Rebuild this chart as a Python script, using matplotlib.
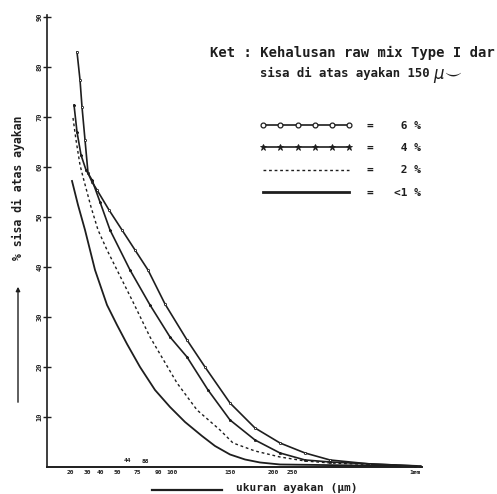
import numpy as np
import matplotlib
matplotlib.use('Agg')
import matplotlib.pyplot as plt
from matplotlib.lines import Line2D
from matplotlib.patches import FancyArrowPatch

# sieve position (arbitrary axis units) and % residue
x_6 = [30, 33, 35, 38, 41, 45, 50, 62, 75, 88, 101, 118, 140, 158, 183, 208, 233, 258, 283, 323, 373]
y_6 = [83, 77.4, 72, 65.4, 58.8, 57, 55.4, 51.4, 47.4, 43.4, 39.4, 32.6, 25.4, 20, 12.8, 7.8, 4.8, 2.8, 1.4, 0.6, 0.2]

x_4 = [27, 30, 34, 39, 45, 53, 63, 83, 103, 123, 140, 161, 183, 208, 233, 258, 283, 368]
y_4 = [72.4, 67, 62.4, 59.4, 57.4, 53, 47.4, 39.4, 32.4, 26, 22, 15.4, 9.4, 5.4, 2.8, 1.4, 1.0, 0.2]

x_2 = [26, 29, 33, 36, 44, 51, 60, 70, 86, 103, 130, 150, 173, 186, 208, 233, 258, 283, 363]
y_2 = [69.8, 65.4, 60.4, 58, 52, 47.4, 43.4, 39.4, 33, 26, 16.8, 11.4, 7.4, 4.8, 3.2, 2.0, 1.2, 0.8, 0.2]

x_1 = [25, 31, 38, 48, 60, 70, 80, 93, 108, 123, 138, 155, 168, 183, 198, 213, 233, 353]
y_1 = [57.2, 52.4, 47.4, 39.4, 32.4, 28.4, 24.6, 20, 15.4, 12, 9, 6.2, 4.2, 2.5, 1.5, 0.9, 0.5, 0.2]

yticks = [10, 20, 30, 40, 50, 60, 70, 80, 90]
xtick_pos = [23, 40, 53, 70, 90, 111, 125, 183, 226, 245, 368]
xtick_lab = ['20', '30', '40', '50', '75', '90', '100', '150', '200', '250', '1mm']

ink = '#1e1e1e'
mono = ['DejaVu Sans Mono']

fig = plt.figure(figsize=(4.97, 4.94), dpi=100)
ax = fig.add_axes([0.0946, 0.0547, 0.7544, 0.915])

ax.plot(x_6, y_6, color=ink, lw=1.2, marker='o', ms=1.6, mfc='white', mew=0.6)
ax.plot(x_4, y_4, color=ink, lw=1.2, marker='*', ms=2, mew=0.5)
ax.plot(x_2, y_2, color=ink, lw=1.0, ls=(0, (2, 2)))
ax.plot(x_1, y_1, color=ink, lw=1.3)

ax.set_xlim(0, 375)
ax.set_ylim(0, 90.4)
for s in ['top', 'right']:
	ax.spines[s].set_visible(False)
ax.spines['left'].set_color(ink)
ax.spines['bottom'].set_color(ink)
ax.spines['left'].set_linewidth(1.2)
ax.spines['bottom'].set_linewidth(1.4)

ax.set_yticks(yticks)
ax.set_yticklabels([str(v) for v in yticks], rotation=90, va='center',
	fontsize=5, family=mono, fontweight='bold', color=ink)
ax.tick_params(axis='y', direction='inout', length=6, width=1, pad=0, colors=ink)
ax.set_xticks(xtick_pos)
ax.set_xticklabels(xtick_lab, fontsize=4.5, family=mono, fontweight='bold', color=ink)
ax.tick_params(axis='x', direction='in', length=0, pad=2, colors=ink)
ax.text(80, 1.0, '44', fontsize=4.5, family=mono, fontweight='bold', color=ink, ha='center')
ax.text(98, 0.8, '88', fontsize=4.5, family=mono, fontweight='bold', color=ink, ha='center')

# axis titles
fig.text(18/497, 1-188/494, '% sisa di atas ayakan', rotation=90, ha='center', va='center',
	fontsize=8.3, family=mono, fontweight='bold', color=ink)
fig.add_artist(FancyArrowPatch((18/497, 1-405/494), (18/497, 1-284/494),
	transform=fig.transFigure, arrowstyle='-|>', mutation_scale=6, lw=1, color=ink))
fig.add_artist(Line2D([152/497, 222/497], [1-490/494, 1-490/494], transform=fig.transFigure,
	color=ink, lw=1.6))
fig.text(236/497, 1-488/494, 'ukuran ayakan (\u00b5m)', ha='left', va='center',
	fontsize=8, family=mono, fontweight='bold', color=ink)

# legend header
fig.text(210/497, 1-53/494, 'Ket : Kehalusan raw mix Type I dar', ha='left', va='center',
	fontsize=10, family=mono, fontweight='bold', color=ink)
fig.text(260/497, 1-73/494, 'sisa di atas ayakan 150', ha='left', va='center',
	fontsize=8.8, family=mono, fontweight='bold', color=ink)
fig.text(433/497, 1-76/494, r'$\mu\!\smile$', ha='left', va='center', fontsize=12, color=ink)

handles = [
	Line2D([], [], color=ink, lw=1.2, marker='o', ms=3.5, mfc='white', mew=0.9),
	Line2D([], [], color=ink, lw=1.2, marker='*', ms=5, mew=0.6),
	Line2D([], [], color=ink, lw=1.0, ls=(0, (2, 2))),
	Line2D([], [], color=ink, lw=2),
]
labels = ['=    6 %', '=    4 %', '=    2 %', '=   <1 %']
leg = fig.legend(handles, labels, loc='upper left', bbox_to_anchor=(260/497, 1-121/494),
	frameon=False, numpoints=6, handlelength=8.3, handletextpad=1.35, labelspacing=1.1,
	borderpad=0, borderaxespad=0,
	prop={'family': 'DejaVu Sans Mono', 'size': 8, 'weight': 'bold'})
for t in leg.get_texts():
	t.set_color(ink)

fig.savefig('out.png', dpi=100)
